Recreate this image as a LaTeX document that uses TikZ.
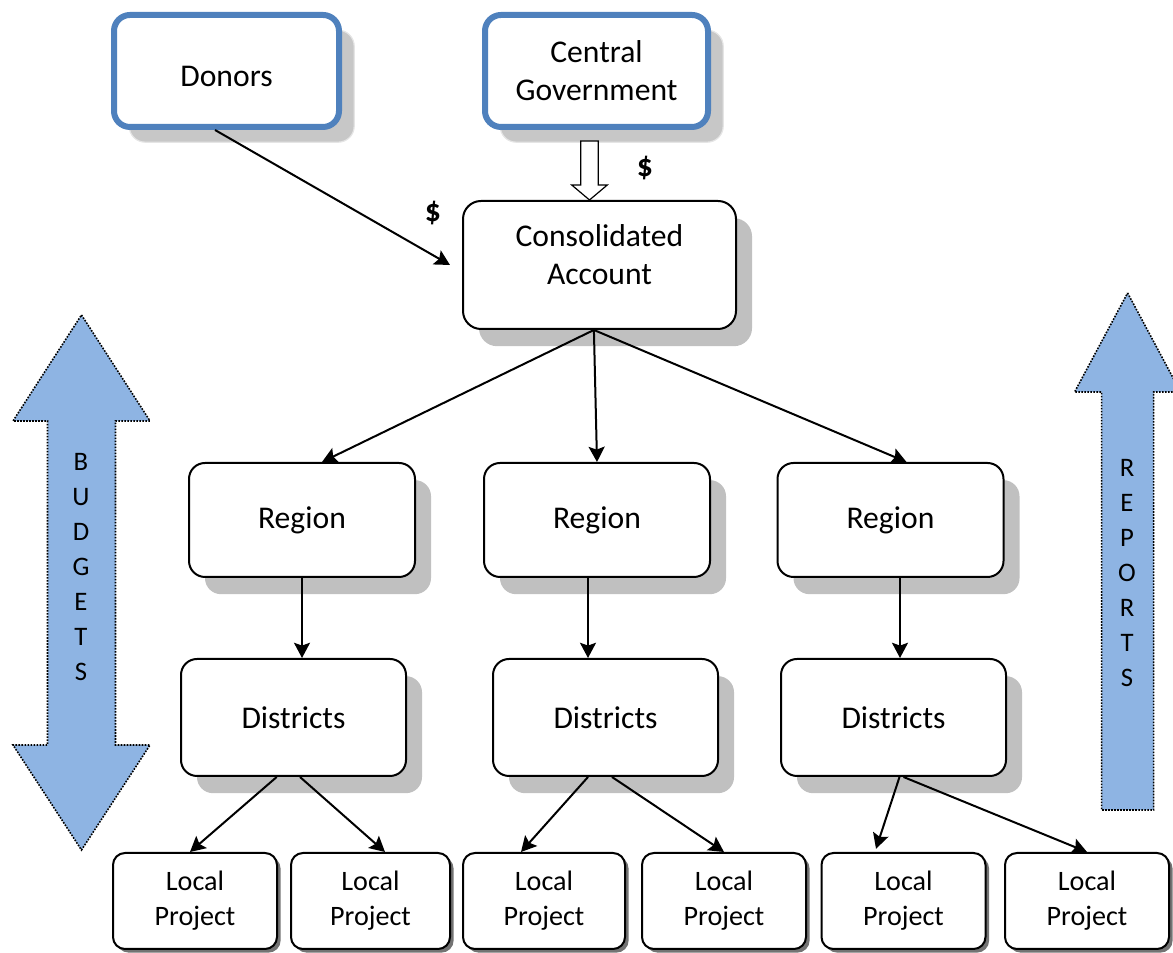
\documentclass[tikz,border=0pt]{standalone}
\usepackage{fontspec}
\setmainfont{Carlito}
\usetikzlibrary{arrows.meta,shadows}

\definecolor{r79g129b189}{rgb}{0.309804,0.505882,0.741176}
\definecolor{r142g180b227}{rgb}{0.556863,0.705882,0.890196}
\definecolor{r192g192b192}{rgb}{0.752941,0.752941,0.752941}

\tikzset{
  plainbox/.style={draw, fill=white, line width=0.05cm, rounded corners=0.4cm,
    align=center, inner sep=0pt, font=\fontsize{22.5}{27}\selectfont},
  box/.style={plainbox,
    general shadow={fill=r192g192b192, shadow xshift=0.4cm, shadow yshift=-0.43cm}},
  topbox/.style={plainbox, draw=r79g129b189, line width=0.15cm,
    general shadow={fill=black!22, draw=black!10, line width=0.03cm,
      shadow xshift=0.38cm, shadow yshift=-0.38cm}},
  projbox/.style={plainbox, rounded corners=0.3cm, minimum width=4.1cm, minimum height=2.4cm,
    font=\fontsize{20}{25}\selectfont,
    general shadow={fill=black!55, shadow xshift=0.09cm, shadow yshift=-0.09cm}},
  bigarrow/.style={fill=r142g180b227, draw=black, densely dotted, line width=0.04cm},
  arrowtext/.style={align=center, inner sep=0pt, font=\fontsize{19}{24.9}\selectfont},
  dollar/.style={inner sep=0pt, font=\fontsize{22.5}{27}\selectfont\bfseries},
  flow/.style={line width=0.05cm, -{Stealth[length=0.38cm,width=0.4cm,inset=0.07cm]}}
}

\begin{document}
\begin{tikzpicture}
% \clip (0,0) rectangle (29.325,23.825);
\useasboundingbox (0,0) rectangle (29.325,23.825);%

% Drawing budgets arrow (both ways)
\draw [bigarrow] (2.0375,15.95) -- (3.75,13.3) -- (2.8875,13.3) -- (2.8875,5.2) -- (3.75,5.2) -- (2.0375,2.575) -- (0.325,5.2) -- (1.1875,5.2) -- (1.1875,13.3) -- (0.325,13.3) -- cycle;%
\node [arrowtext] (budgets) at (2.025,9.65) {B\\U\\D\\G\\E\\T\\S};%

% Drawing reports arrow (upwards)
\draw [bigarrow] (28.19,16.5) -- (29.515,14.025) -- (28.84,14.025) -- (28.84,3.575) -- (27.54,3.575) -- (27.54,14.025) -- (26.865,14.025) -- cycle;%
\node [arrowtext] (reports) at (28.175,9.4875) {R\\E\\P\\O\\R\\T\\S};%

% Drawing sources of money
\node [topbox, minimum width=5.625cm, minimum height=2.8cm, text height=0.76cm] (donors) at (5.6625,22.05) {Donors};%
\node [topbox, minimum width=5.575cm, minimum height=2.8cm] (cgov) at (14.9125,22.05) {Central\\Government};%

% Drawing consolidated account
\node [box, minimum width=6.825cm, minimum height=3.2cm, rounded corners=0.45cm, text depth=0.5cm] (cons) at (14.9875,17.2) {Consolidated\\Account};%

% Drawing regions
\node [box, minimum width=5.65cm, minimum height=2.85cm] (reg1) at (7.55,10.825) {Region};%
\node [box, minimum width=5.65cm, minimum height=2.85cm] (reg2) at (14.925,10.825) {Region};%
\node [box, minimum width=5.65cm, minimum height=2.85cm] (reg3) at (22.2625,10.825) {Region};%

% Drawing districts
\node [box, minimum width=5.625cm, minimum height=2.925cm] (dist1) at (7.3375,5.8875) {Districts};%
\node [box, minimum width=5.625cm, minimum height=2.925cm] (dist2) at (15.1375,5.8875) {Districts};%
\node [box, minimum width=5.625cm, minimum height=2.925cm] (dist3) at (22.3375,5.8875) {Districts};%

% Drawing local projects
\node [projbox] (proj1) at (4.875,1.3) {Local\\Project};%
\node [projbox, minimum width=3.975cm] (proj2) at (9.2625,1.3) {Local\\Project};%
\node [projbox, minimum width=4.05cm] (proj3) at (13.6,1.3) {Local\\Project};%
\node [projbox] (proj4) at (18.1,1.3) {Local\\Project};%
\node [projbox] (proj5) at (22.5875,1.3) {Local\\Project};%
\node [projbox] (proj6) at (27.175,1.3) {Local\\Project};%

% Drawing money flows
\draw [line width=0.03cm, fill=white] ([xshift=-0.25cm]cons.north) -- ++(-0.445,0.375) -- ++(0.225,0) -- ++(0,1.1) -- ++(0.44,0) -- ++(0,-1.1) -- ++(0.225,0) -- cycle;%
\draw [flow] ([xshift=-0.2875cm]donors.south) -- ([xshift=-0.3cm]cons.west);%
\node [dollar] (dollar1) at (10.825,18.5) {\$};%
\node [dollar] (dollar2) at (16.125,19.625) {\$};%

% Drawing account to regions
\draw [flow] ([xshift=-0.14cm]cons.south) -- ([xshift=0.5cm]reg1.north);%
\draw [flow] ([xshift=-0.14cm]cons.south) -- (reg2.north);%
\draw [flow] ([xshift=-0.14cm]cons.south) -- ([xshift=0.4cm]reg3.north);%

% Drawing regions to districts
\draw [flow] (reg1.south) -- (reg1.south |- dist1.north);%
\draw [flow] ([xshift=-0.225cm]reg2.south) -- ([xshift=-0.225cm]reg2.south |- dist2.north);%
\draw [flow] ([xshift=0.2375cm]reg3.south) -- ([xshift=0.2375cm]reg3.south |- dist3.north);%

% Drawing districts to local projects
\draw [flow] ([xshift=-0.42cm]dist1.south) -- ([xshift=-0.125cm]proj1.north);%
\draw [flow] ([xshift=0.1625cm]dist1.south) -- ([xshift=0.3625cm]proj2.north);%
\draw [flow] ([xshift=-0.4375cm]dist2.south) -- ([xshift=-0.575cm]proj3.north);%
\draw [flow] ([xshift=0.1625cm]dist2.south) -- (proj4.north);%
\draw [flow] ([xshift=0.15cm]dist3.south) -- ([xshift=-0.6875cm,yshift=0.08cm]proj5.north);%
\draw [flow] ([xshift=0.25cm]dist3.south) -- (proj6.north);%
\end{tikzpicture}
\end{document}
